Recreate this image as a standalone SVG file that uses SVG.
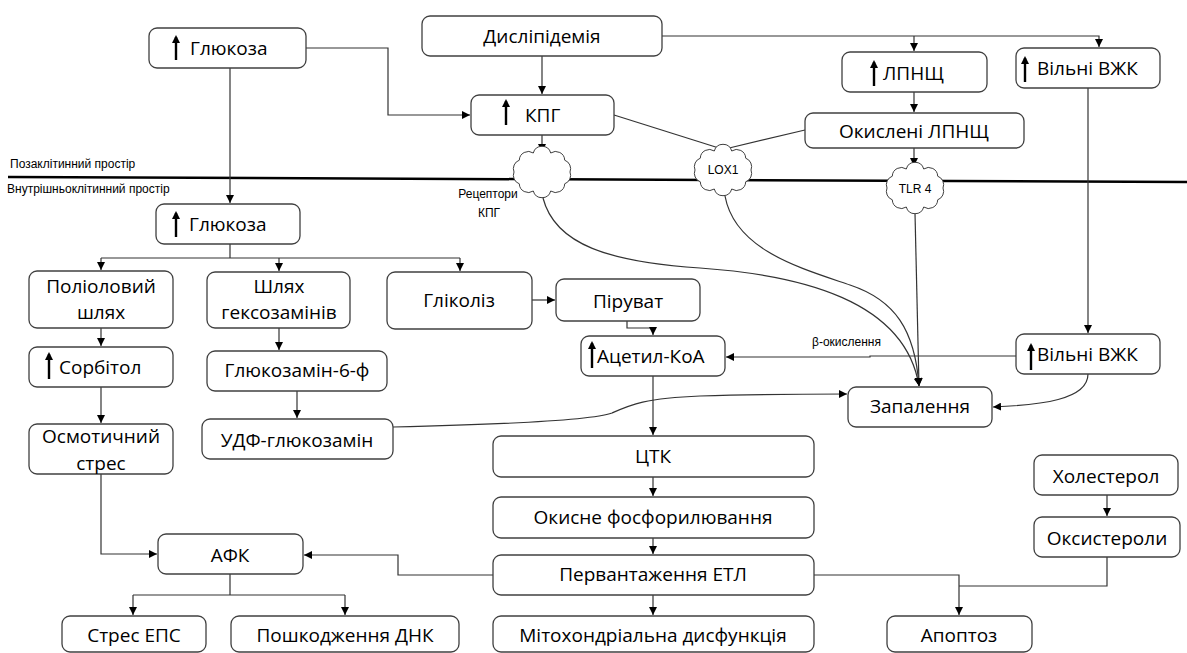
<svg xmlns="http://www.w3.org/2000/svg" width="1187" height="653" viewBox="0 0 1187 653">
<style>
.box{fill:#fff;stroke:#404040;stroke-width:1.3}
.t{font-family:"Open Sans","Liberation Sans",Arial,sans-serif;font-size:19px;fill:#000;text-anchor:middle}
.ts{text-anchor:start}
.s{font-family:"Liberation Sans",Arial,sans-serif;font-size:12px;fill:#000}
.c{fill:none;stroke:#333;stroke-width:1.2}
.a{marker-end:url(#ah)}
.up{stroke:#000;stroke-width:2.4;marker-end:url(#uh)}
.cloud{fill:#fff;stroke:#404040;stroke-width:1}
.mem{stroke:#000;stroke-width:2.5}
</style>
<defs>
<marker id="ah" viewBox="0 0 8 8" refX="8" refY="4" markerWidth="8" markerHeight="8" markerUnits="userSpaceOnUse" orient="auto"><path d="M0,0 L8,4 L0,8 z" fill="#000"/></marker>
<marker id="uh" viewBox="0 0 8 8" refX="6" refY="4" markerWidth="8" markerHeight="8" markerUnits="userSpaceOnUse" orient="auto"><path d="M0,0 L8,4 L0,8 z" fill="#000"/></marker>
<path id="cl" d="M28,0 A9,9 0 0 1 22.7,11.8 A9,9 0 0 1 8.7,19 A9,9 0 0 1 -8.7,19 A9,9 0 0 1 -22.7,11.8 A9,9 0 0 1 -28,0 A9,9 0 0 1 -22.7,-11.8 A9,9 0 0 1 -8.7,-19 A9,9 0 0 1 8.7,-19 A9,9 0 0 1 22.7,-11.8 A9,9 0 0 1 28,0 Z"/>
</defs>
<rect width="1187" height="653" fill="#fff"/>

<g id="membrane">
<line class="mem" x1="8" y1="177" x2="1187" y2="182"/>
<text class="s" x="10" y="168">Позаклітинний простір</text>
<text class="s" x="7" y="193">Внутрішньоклітинний простір</text>
</g>

<g id="connectors">
<path class="c a" d="M230,68 V203"/>
<path class="c a" d="M306,48 H388 V115 H470"/>
<path class="c a" d="M542,56 V94"/>
<path class="c a" d="M662,36 H1099 V47"/>
<path class="c a" d="M914,36 V51"/>
<path class="c a" d="M914,92 V112"/>
<path class="c a" d="M914,148 V166"/>
<path class="c a" d="M542,135 V152"/>
<path class="c" d="M614,115 L722,149"/>
<path class="c" d="M805,130 L725,149"/>
<path class="c a" d="M1088,88 V333"/>
<path class="c a" d="M543,198 C555,245 610,262 700,268 C800,275 905,300 919,386"/>
<path class="c a" d="M725,196 C735,250 800,268 850,285 C895,300 915,330 919,386"/>
<path class="c a" d="M915,213 L919,386"/>
<path class="c" d="M230,244 V258 M101,258 H460"/>
<path class="c a" d="M101,258 V270"/>
<path class="c a" d="M279,258 V271"/>
<path class="c a" d="M460,258 V271"/>
<path class="c a" d="M532,300 H555"/>
<path class="c a" d="M627,321 V328 H653 V335"/>
<path class="c a" d="M1016,356 H870 V357 H726"/>
<path class="c a" d="M653,376 V435"/>
<path class="c a" d="M653,477 V496"/>
<path class="c a" d="M653,538 V554"/>
<path class="c a" d="M653,595 V615"/>
<path class="c a" d="M101,328 V346"/>
<path class="c a" d="M101,387 V423"/>
<path class="c a" d="M279,328 V350"/>
<path class="c a" d="M297,391 V418"/>
<path class="c a" d="M101,474 V554 H157"/>
<path class="c a" d="M493,575 H398 V555 H304"/>
<path class="c" d="M230,574 V595 M133,595 H345"/>
<path class="c a" d="M133,595 V615"/>
<path class="c a" d="M345,595 V615"/>
<path class="c a" d="M814,575 H959 V615"/>
<path class="c" d="M1107,557 V586 H959"/>
<path class="c a" d="M1107,495 V516"/>
<path class="c a" d="M393,427 C480,425 590,421 612,413 C630,405 645,398 700,396 C760,394 800,394 847,394"/>
<path class="c a" d="M1088,374 C1088,400 1040,405 993,407"/>
<text class="s" x="812" y="346">β-окислення</text>
</g>

<g id="n-glucose-out"><rect class="box" x="149" y="28" width="157" height="40" rx="8"/><line class="up" x1="176" y1="60" x2="176" y2="37"/><text class="t ts" x="190" y="55">Глюкоза</text></g>
<g id="n-dyslipidemia"><rect class="box" x="422" y="16" width="240" height="40" rx="8"/><text class="t" x="542" y="43">Дисліпідемія</text></g>
<g id="n-kpg"><rect class="box" x="471" y="95" width="143" height="40" rx="8"/><line class="up" x1="506" y1="125" x2="506" y2="101"/><text class="t ts" x="525" y="122">КПГ</text></g>
<g id="n-ldl"><rect class="box" x="842" y="52" width="145" height="40" rx="8"/><line class="up" x1="874" y1="86" x2="874" y2="62"/><text class="t ts" x="883" y="80">ЛПНЩ</text></g>
<g id="n-ffa-top"><rect class="box" x="1016" y="48" width="144" height="40" rx="8"/><line class="up" x1="1025" y1="82" x2="1025" y2="58"/><text class="t ts" x="1037" y="75">Вільні ВЖК</text></g>
<g id="n-oxldl"><rect class="box" x="805" y="113" width="219" height="35" rx="8"/><text class="t" x="914" y="138">Окислені ЛПНЩ</text></g>

<g id="n-rage"><use href="#cl" class="cloud" transform="translate(542,172)"/><text class="s" x="488" y="198" text-anchor="middle">Рецептори</text><text class="s" x="489" y="217" text-anchor="middle">КПГ</text></g>
<g id="n-lox1"><use href="#cl" class="cloud" transform="translate(723,170)"/><text class="s" x="723" y="174" text-anchor="middle">LOX1</text></g>
<g id="n-tlr4"><use href="#cl" class="cloud" transform="translate(915,188)"/><text class="s" x="915" y="193" text-anchor="middle">TLR 4</text></g>

<g id="n-glucose-in"><rect class="box" x="156" y="204" width="144" height="40" rx="8"/><line class="up" x1="176" y1="237" x2="176" y2="213"/><text class="t ts" x="189" y="231">Глюкоза</text></g>
<g id="n-polyol"><rect class="box" x="29" y="271" width="144" height="57" rx="8"/><text class="t" x="101" y="293">Поліоловий</text><text class="t" x="101" y="319">шлях</text></g>
<g id="n-hexosamine"><rect class="box" x="207" y="272" width="143" height="56" rx="8"/><text class="t" x="279" y="293">Шлях</text><text class="t" x="279" y="319">гексозамінів</text></g>
<g id="n-glycolysis"><rect class="box" x="387" y="272" width="145" height="57" rx="8"/><text class="t" x="459" y="307">Гліколіз</text></g>
<g id="n-pyruvate"><rect class="box" x="556" y="279" width="144" height="42" rx="8"/><text class="t" x="628" y="308">Піруват</text></g>
<g id="n-acetyl"><rect class="box" x="581" y="336" width="144" height="40" rx="8"/><line class="up" x1="592" y1="368" x2="592" y2="343"/><text class="t ts" x="597" y="363">Ацетил-КоА</text></g>
<g id="n-sorbitol"><rect class="box" x="29" y="347" width="144" height="40" rx="8"/><line class="up" x1="49" y1="379" x2="49" y2="354"/><text class="t ts" x="59" y="374">Сорбітол</text></g>
<g id="n-gln6p"><rect class="box" x="207" y="351" width="180" height="40" rx="8"/><text class="t" x="297" y="377">Глюкозамін-6-ф</text></g>
<g id="n-udp"><rect class="box" x="202" y="419" width="191" height="40" rx="8"/><text class="t" x="297" y="447">УДФ-глюкозамін</text></g>
<g id="n-osmotic"><rect class="box" x="29" y="424" width="144" height="50" rx="8"/><text class="t" x="101" y="443">Осмотичний</text><text class="t" x="101" y="470">стрес</text></g>
<g id="n-inflammation"><rect class="box" x="848" y="387" width="144" height="40" rx="8"/><text class="t" x="920" y="413">Запалення</text></g>
<g id="n-ffa-low"><rect class="box" x="1016" y="334" width="144" height="40" rx="8"/><line class="up" x1="1031" y1="370" x2="1031" y2="345"/><text class="t ts" x="1037" y="361">Вільні ВЖК</text></g>
<g id="n-tca"><rect class="box" x="493" y="436" width="321" height="41" rx="8"/><text class="t" x="653" y="463">ЦТК</text></g>
<g id="n-oxphos"><rect class="box" x="493" y="497" width="321" height="41" rx="8"/><text class="t" x="653" y="524">Окисне фосфорилювання</text></g>
<g id="n-etc"><rect class="box" x="493" y="555" width="321" height="40" rx="8"/><text class="t" x="653" y="581">Первантаження ЕТЛ</text></g>
<g id="n-mito"><rect class="box" x="493" y="616" width="321" height="36" rx="8"/><text class="t" x="653" y="642">Мітохондріальна дисфункція</text></g>
<g id="n-cholesterol"><rect class="box" x="1034" y="455" width="144" height="40" rx="8"/><text class="t" x="1106" y="483">Холестерол</text></g>
<g id="n-oxysterol"><rect class="box" x="1034" y="517" width="146" height="40" rx="8"/><text class="t" x="1107" y="545">Оксистероли</text></g>
<g id="n-ros"><rect class="box" x="158" y="534" width="145" height="40" rx="8"/><text class="t" x="230" y="562">АФК</text></g>
<g id="n-er"><rect class="box" x="62" y="616" width="144" height="36" rx="8"/><text class="t" x="134" y="642">Стрес ЕПС</text></g>
<g id="n-dna"><rect class="box" x="231" y="616" width="228" height="36" rx="8"/><text class="t" x="345" y="642">Пошкодження ДНК</text></g>
<g id="n-apoptosis"><rect class="box" x="887" y="616" width="145" height="36" rx="8"/><text class="t" x="959" y="642">Апоптоз</text></g>
</svg>
